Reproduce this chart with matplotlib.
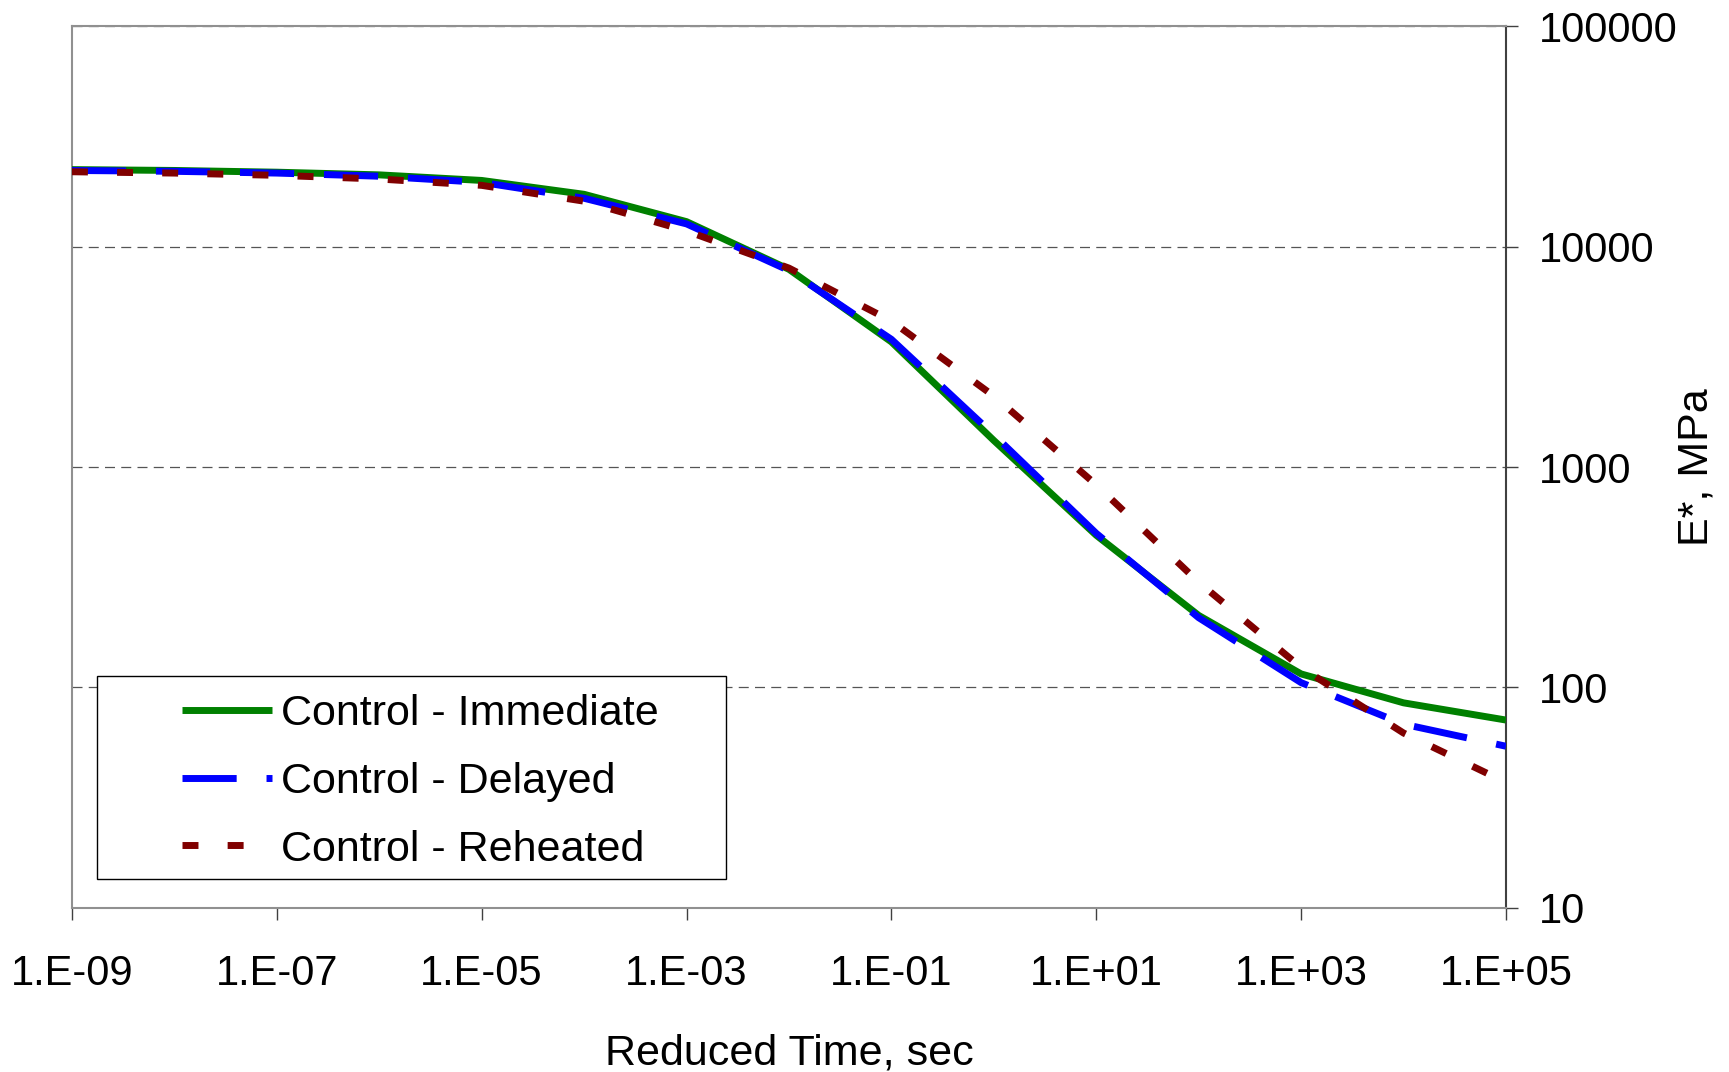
import matplotlib
matplotlib.use("Agg")
import matplotlib.pyplot as plt
from matplotlib.patches import Rectangle
from matplotlib.ticker import FixedLocator, FuncFormatter, NullLocator
import numpy as np

# reduced time, sec
reduced_time = [1e-9, 1e-8, 1e-7, 1e-6, 1e-5, 1e-4, 1e-3, 1e-2,
                1e-1, 1e0, 1e1, 1e2, 1e3, 1e4, 1e5]

# E*, MPa
immediate = [22400, 22200, 21800, 21200, 20000, 17300, 13000, 7900,
             3700, 1320, 490, 212, 115, 85, 71]
delayed = [22200, 22000, 21600, 20900, 19600, 16600, 12700, 7800,
           3800, 1400, 500, 207, 105, 68, 54]
reheated = [21900, 21600, 21100, 20300, 19000, 16100, 11800, 8000,
            4600, 2100, 830, 300, 123, 62, 37]

series_labels = ["Control - Immediate", "Control - Delayed",
                 "Control - Reheated"]

x_ticks = [1e-9, 1e-7, 1e-5, 1e-3, 1e-1, 1e1, 1e3, 1e5]
y_ticks = [10, 100, 1000, 10000, 100000]


def main() -> None:
    plt.rcParams["font.family"] = ["Liberation Sans", "DejaVu Sans"]

    fig = plt.figure(figsize=(17.29, 10.72), dpi=100)
    ax = fig.add_axes([0.0416, 0.1534, 0.8294, 0.8219])

    ax.plot(reduced_time, immediate, color="#008000", lw=5,
            solid_capstyle="butt", label=series_labels[0], zorder=3)
    ax.plot(reduced_time, delayed, color="#0000FF", lw=5,
            dashes=(7.8, 4.3), label=series_labels[1], zorder=4)
    ax.plot(reduced_time, reheated, color="#800000", lw=5,
            dashes=(2.3, 4.2), label=series_labels[2], zorder=5)

    ax.set_xscale("log")
    ax.set_yscale("log")
    ax.set_xlim(1e-9, 1e5)
    ax.set_ylim(10, 100000)

    ax.xaxis.set_major_locator(FixedLocator(x_ticks))
    ax.xaxis.set_minor_locator(NullLocator())
    ax.xaxis.set_major_formatter(FuncFormatter(
        lambda v, _: f"1.E{int(round(np.log10(v))):+03d}"))

    ax.yaxis.set_major_locator(FixedLocator(y_ticks))
    ax.yaxis.set_minor_locator(NullLocator())
    ax.yaxis.set_major_formatter(FuncFormatter(lambda v, _: f"{int(v)}"))
    ax.yaxis.tick_right()

    ax.tick_params(axis="both", direction="out", length=8.5, width=1,
                   color="#404040", labelsize=30)
    ax.tick_params(axis="x", pad=25)
    ax.tick_params(axis="y", pad=15)

    ax.grid(axis="y", which="major", color="#555555", lw=0.9,
            dashes=(8, 5))
    ax.set_axisbelow(True)

    for side in ("left", "top", "bottom"):
        ax.spines[side].set_color("#909090")
        ax.spines[side].set_linewidth(1.5)
    ax.spines["right"].set_color("#404040")
    ax.spines["right"].set_linewidth(1.5)

    ax.set_xlabel("Reduced Time, sec", fontsize=31)
    ax.xaxis.set_label_coords(0.5, -0.166)
    ax.xaxis.label.set_va("center")

    ax.yaxis.set_label_position("right")
    ax.set_ylabel("E*, MPa", fontsize=31, rotation=90)
    ax.yaxis.label.set_va("center")
    ax.yaxis.set_label_coords(1.133, 0.5)

    # legend frame drawn separately
    ax.add_patch(Rectangle((0.0174, 0.0323), 0.4386, 0.2307,
                           transform=ax.transAxes, facecolor="white",
                           edgecolor="black", lw=1, zorder=6))
    leg = ax.legend(loc="center left", bbox_to_anchor=(0.0767, 0.1425),
                    frameon=False, fontsize=31, handlelength=2.1,
                    handletextpad=0.2, labelspacing=0.64, borderpad=0,
                    borderaxespad=0)
    leg.set_zorder(7)

    fig.savefig("out.png", dpi=100, facecolor="white")


if __name__ == "__main__":
    main()
